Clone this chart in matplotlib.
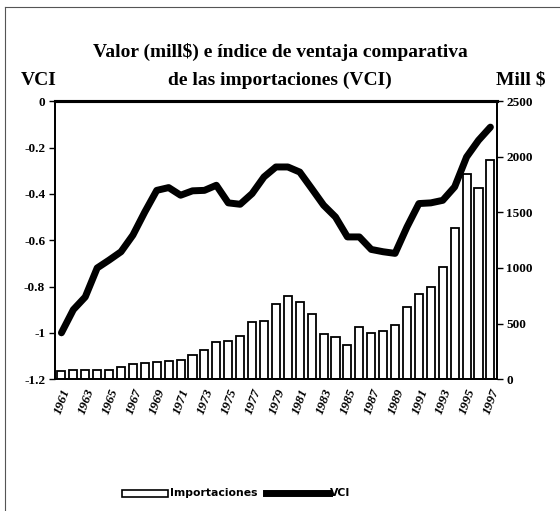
import numpy as np
import matplotlib
matplotlib.use("Agg")
import matplotlib.pyplot as plt
from matplotlib.lines import Line2D
from matplotlib.patches import Rectangle

years = list(range(1961, 1998))

# importaciones, mill $
imports = [75, 85, 85, 85, 85, 110, 135, 145, 155, 165, 170, 220, 260, 330, 340,
           385, 512, 526, 676, 748, 697, 586, 404, 377, 311, 467, 416, 431, 487,
           646, 763, 826, 1011, 1361, 1843, 1723, 1968]

# indice VCI
vci = [-1.0, -0.90, -0.845, -0.72, -0.686, -0.65, -0.578, -0.478, -0.385, -0.373,
       -0.406, -0.387, -0.385, -0.363, -0.439, -0.445, -0.399, -0.327, -0.284,
       -0.284, -0.306, -0.377, -0.449, -0.5, -0.586, -0.586, -0.64, -0.65, -0.657,
       -0.543, -0.442, -0.439, -0.428, -0.37, -0.241, -0.169, -0.112]

left_ticks = [0, -0.2, -0.4, -0.6, -0.8, -1, -1.2]
left_labels = ['0', '-0.2', '-0.4', '-0.6', '-0.8', '-1', '-1.2']
right_ticks = [0, 500, 1000, 1500, 2000, 2500]

plt.rcParams['font.family'] = ['Liberation Serif', 'DejaVu Serif']

fig = plt.figure(figsize=(5.6, 5.11), dpi=100)
ax = fig.add_axes([0.098, 0.258, 0.789, 0.544])
ax2 = ax.twinx()

x = np.arange(len(years))

# bars on right axis, line on left axis drawn on top
ax2.bar(x, imports, width=0.68, color='white', edgecolor='black', linewidth=1.3)
ax2.set_ylim(0, 2500)
ax2.set_yticks(right_ticks)
ax2.set_yticklabels([str(t) for t in right_ticks], fontsize=9.5, fontweight='bold')
ax2.tick_params(axis='y', direction='out', length=4, width=1, pad=3)

ax.set_zorder(ax2.get_zorder() + 1)
ax.patch.set_visible(False)
ax.plot(x, vci, color='black', linewidth=5, solid_capstyle='round', solid_joinstyle='round')
ax.set_ylim(-1.2, 0)
ax.set_yticks(left_ticks)
ax.set_yticklabels(left_labels, fontsize=9.5, fontweight='bold')
ax.tick_params(axis='y', direction='out', length=4, width=1, pad=3)
ax.set_xlim(-0.55, len(years) - 0.47)
ax.set_xticks(x[::2])
ax.set_xticklabels([str(y) for y in years[::2]], rotation=70, ha='right',
                   rotation_mode='anchor', fontsize=9.5, fontweight='bold', style='italic')
ax.tick_params(axis='x', length=0, pad=6)

for a in (ax, ax2):
    a.spines['top'].set_linewidth(2.2)
    a.spines['left'].set_linewidth(1.3)
    a.spines['right'].set_linewidth(1.3)
    a.spines['bottom'].set_linewidth(1.3)

fig.text(0.5, 0.898, 'Valor (mill$) e índice de ventaja comparativa',
         ha='center', va='center', fontsize=14, fontweight='bold')
fig.text(0.5, 0.843, 'de las importaciones (VCI)',
         ha='center', va='center', fontsize=14, fontweight='bold')
fig.text(0.038, 0.843, 'VCI', ha='left', va='center', fontsize=14, fontweight='bold')
fig.text(0.975, 0.843, 'Mill $', ha='right', va='center', fontsize=14, fontweight='bold')

# legend drawn by hand: line key is longer than the bar key in the original
ly = 1 - 493 / 511
fig.add_artist(Rectangle((122 / 560, ly - 3.5 / 511), 46 / 560, 7 / 511,
                         facecolor='white', edgecolor='black', linewidth=1.2))
fig.text(170 / 560, ly, 'Importaciones', ha='left', va='center',
         family='DejaVu Sans', fontsize=7.8, fontweight='bold')
fig.add_artist(Line2D([266 / 560, 329 / 560], [ly, ly], color='black', linewidth=5))
fig.text(330 / 560, ly, 'VCI', ha='left', va='center',
         family='DejaVu Sans', fontsize=7.8, fontweight='bold')

# thin frame around the picture (top and left edges)
fig.add_artist(Line2D([0.009, 1.0], [0.986, 0.986], color='#555555', linewidth=0.8))
fig.add_artist(Line2D([0.009, 0.009], [0.0, 0.986], color='#555555', linewidth=0.8))

fig.savefig('out.png', dpi=100)
